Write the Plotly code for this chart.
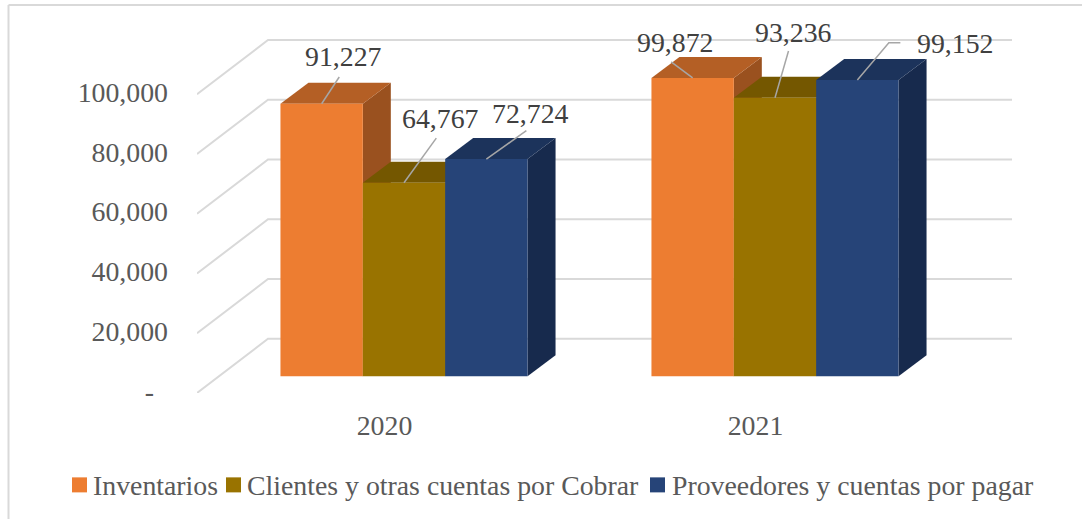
import plotly.graph_objects as go

years = ["2020", "2021"]
series_names = ["Inventarios", "Clientes y otras cuentas por Cobrar", "Proveedores y cuentas por pagar"]
inventarios = [91227, 99872]
clientes = [64767, 93236]
proveedores = [72724, 99152]
y_ticks = [0, 20000, 40000, 60000, 80000, 100000]
y_tick_labels = ["-\u00a0\u00a0", "20,000", "40,000", "60,000", "80,000", "100,000"]

front_colors = ["#ED7D31", "#997300", "#264478"]
top_colors = ["#B45F25", "#745700", "#1C335B"]
side_colors = ["#9A511F", "#634A00", "#172A4D"]
series_values = [inventarios, clientes, proveedores]

# canvas and plot area, in pixels
W, H = 1082, 519
PLOT_L, PLOT_R, PLOT_T, PLOT_B = 197, 1012, 20, 392.7
PX_X = 371.0  # pixels per category
PX_Y = 298.5 / 100000  # pixels per unit
X0_PX = 384.5  # where the first category sits on the front of the floor

FONT = "Liberation Serif"
FONT_SIZE = 27.8

x_range = [(PLOT_L - X0_PX) / PX_X, (PLOT_R - X0_PX) / PX_X]
y_range = [0, (PLOT_B - PLOT_T) / PX_Y]

# fake 3d offsets
wall_dx, wall_dy = 71 / PX_X, 54.2 / PX_Y
bar_shift_x, bar_base = 19.5 / PX_X, 16.7 / PX_Y
depth_dx, depth_dy = 28 / PX_X, 21 / PX_Y
bargap = 0.334
bar_w = (1 - bargap) / 3


def paper_x(px):
    return (px - PLOT_L) / (PLOT_R - PLOT_L)


def paper_y(py):
    return (PLOT_B - py) / (PLOT_B - PLOT_T)


fig = go.Figure()

# gridlines: front of the side wall, up to the back wall, then across
for t in y_ticks:
    fig.add_trace(go.Scatter(
        x=[x_range[0], x_range[0] + wall_dx, x_range[1]],
        y=[t, t + wall_dy, t + wall_dy],
        mode="lines", line=dict(color="#D9D9D9", width=2),
        cliponaxis=False, showlegend=False, hoverinfo="skip",
    ))

# side and top faces live on the base axes so the bars paint over them
for cat in range(len(years)):
    cx = cat + bar_shift_x
    for i, vals in enumerate(series_values):
        left = cx + (i - 1.5) * bar_w
        right = left + bar_w
        top = vals[cat] + bar_base
        fig.add_trace(go.Scatter(
            x=[right, right + depth_dx, right + depth_dx, right, right],
            y=[bar_base, bar_base + depth_dy, top + depth_dy, top, bar_base],
            mode="lines", line=dict(width=0), fill="toself", fillcolor=side_colors[i],
            showlegend=False, hoverinfo="skip",
        ))
        fig.add_trace(go.Scatter(
            x=[left, right, right + depth_dx, left + depth_dx, left],
            y=[top, top, top + depth_dy, top + depth_dy, top],
            mode="lines", line=dict(width=0), fill="toself", fillcolor=top_colors[i],
            showlegend=False, hoverinfo="skip",
        ))

# front faces
for i, vals in enumerate(series_values):
    fig.add_trace(go.Bar(
        x=[c + bar_shift_x for c in range(len(years))],
        y=vals,
        base=bar_base,
        name=series_names[i],
        marker=dict(color=front_colors[i], line=dict(width=0)),
        xaxis="x2", yaxis="y2",
        showlegend=False,
    ))

# label offsets from the top centre of each front face: text, then leader line points
label_text_shift = [
    [(21.4, 47.2), (-17.5, 35.3)],
    [(36.5, 64.7), (18, 65.5)],
    [(44.5, 45.5), (98, 36.3)],
]
leader_shift = [
    [[(17.6, 26.7)], [(-21.5, 16)]],
    [[(32.3, 44.7)], [(13.5, 46.7)]],
    [[(40, 28.3)], [(31.5, 37.3), (43, 37.3)]],
]

annotations = []
for i, vals in enumerate(series_values):
    for cat, v in enumerate(vals):
        xc = cat + bar_shift_x + (i - 1) * bar_w
        top = v + bar_base
        xs = [xc] + [xc + dx / PX_X for dx, dy in leader_shift[i][cat]]
        ys = [top] + [top + dy / PX_Y for dx, dy in leader_shift[i][cat]]
        fig.add_trace(go.Scatter(
            x=xs, y=ys, mode="lines", line=dict(color="#A6A6A6", width=1.5),
            xaxis="x2", yaxis="y2", showlegend=False, hoverinfo="skip",
        ))
        sx, sy = label_text_shift[i][cat]
        annotations.append(dict(
            x=xc, y=top, xref="x", yref="y", xshift=sx, yshift=sy,
            text=f"{v:,}", showarrow=False,
            font=dict(family=FONT, size=FONT_SIZE, color="#404040"),
        ))

# legend, laid out by hand to keep the tight spacing of the original
legend_swatch_x = [72, 226, 650]
legend_text_x = [90.5, 244.5, 669.5]
shapes = []
for i, name in enumerate(series_names):
    shapes.append(dict(
        type="rect", xref="paper", yref="paper",
        x0=paper_x(legend_swatch_x[i]), x1=paper_x(legend_swatch_x[i] + 15),
        y0=paper_y(492), y1=paper_y(477),
        fillcolor=front_colors[i], line=dict(width=0),
    ))
    annotations.append(dict(
        x=paper_x(legend_text_x[i]), y=paper_y(485), xref="paper", yref="paper",
        xanchor="left", yanchor="middle", text=name, showarrow=False,
        font=dict(family=FONT, size=FONT_SIZE, color="#595959"),
    ))

# chart area border
for x0, y0, x1, y1 in [(8.5, 5, 8.5, H), (8.5, 5, W, 5)]:
    shapes.append(dict(
        type="line", xref="paper", yref="paper",
        x0=paper_x(x0), x1=paper_x(x1), y0=paper_y(y0), y1=paper_y(y1),
        line=dict(color="#D9D9D9", width=2),
    ))

fig.update_layout(
    width=W, height=H,
    margin=dict(l=PLOT_L, r=W - PLOT_R, t=PLOT_T, b=H - PLOT_B, pad=0, autoexpand=False),
    paper_bgcolor="white", plot_bgcolor="rgba(0,0,0,0)",
    barmode="group", bargap=bargap, bargroupgap=0,
    showlegend=False,
    font=dict(family=FONT, size=FONT_SIZE, color="#595959"),
    xaxis=dict(
        range=x_range, tickvals=[0, 1], ticktext=years, showgrid=False, zeroline=False,
        showline=False, ticks="", ticklabelstandoff=13,
    ),
    yaxis=dict(
        range=y_range, tickvals=y_ticks, ticktext=y_tick_labels, showgrid=False, zeroline=False,
        showline=False, ticks="", ticklabelstandoff=28, ticklabelshift=-2,
    ),
    xaxis2=dict(range=x_range, overlaying="x", visible=False),
    yaxis2=dict(range=y_range, overlaying="y", visible=False),
    annotations=annotations,
    shapes=shapes,
)

fig.write_html("out.html", config=dict(displayModeBar=False), post_script="document.body.style.margin='0';")
